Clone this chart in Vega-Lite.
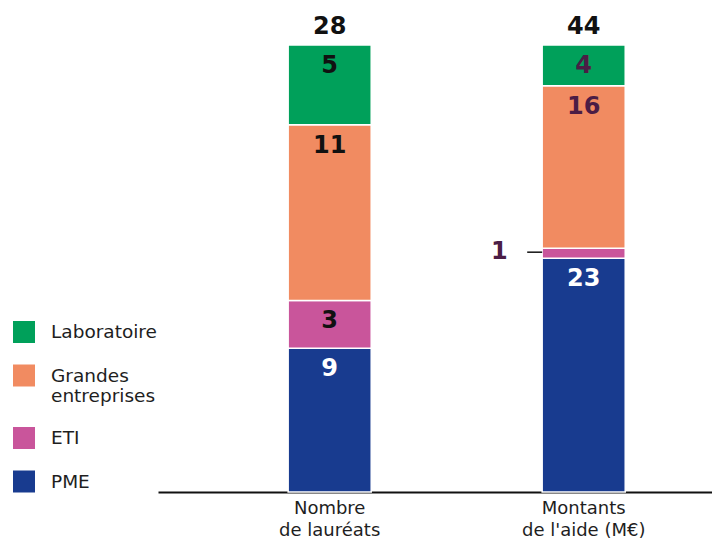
{
  "$schema": "https://vega.github.io/schema/vega-lite/v6.json",
  "width": 554,
  "height": 447,
  "autosize": {"type": "none"},
  "padding": {"left": 158, "top": 45, "right": 0, "bottom": 53},
  "background": "white",
  "config": {"view": {"stroke": null}, "font": "DejaVu Sans"},
  "data": {
    "values": [
      {"indicateur": "Nombre de lauréats", "categorie": "PME", "valeur": 9, "rang": 1},
      {"indicateur": "Nombre de lauréats", "categorie": "ETI", "valeur": 3, "rang": 2},
      {"indicateur": "Nombre de lauréats", "categorie": "Grandes entreprises", "valeur": 11, "rang": 3},
      {"indicateur": "Nombre de lauréats", "categorie": "Laboratoire", "valeur": 5, "rang": 4},
      {"indicateur": "Montants de l'aide (M€)", "categorie": "PME", "valeur": 23, "rang": 1},
      {"indicateur": "Montants de l'aide (M€)", "categorie": "ETI", "valeur": 1, "rang": 2},
      {"indicateur": "Montants de l'aide (M€)", "categorie": "Grandes entreprises", "valeur": 16, "rang": 3},
      {"indicateur": "Montants de l'aide (M€)", "categorie": "Laboratoire", "valeur": 4, "rang": 4}
    ]
  },
  "encoding": {
    "x": {
      "field": "indicateur",
      "type": "nominal",
      "sort": null,
      "scale": {"paddingInner": 0.673, "paddingOuter": 0.427, "align": 0.6},
      "axis": {
        "title": null,
        "labelAngle": 0,
        "ticks": false,
        "domainColor": "#111111",
        "domainWidth": 2,
        "labelFontSize": 18,
        "labelColor": "#1e1e1e",
        "labelLineHeight": 22,
        "labelPadding": 7,
        "labelExpr": "datum.label == 'Nombre de lauréats' ? ['Nombre', 'de lauréats'] : ['Montants', \"de l'aide (M€)\"]"
      }
    }
  },
  "layer": [
    {
      "mark": {"type": "bar", "stroke": "white", "strokeWidth": 1.5},
      "encoding": {
        "y": {"field": "valeur", "type": "quantitative", "stack": "normalize", "axis": null, "scale": {"domain": [0, 1], "nice": false}},
        "color": {
          "field": "categorie",
          "type": "nominal",
          "scale": {
            "domain": ["Laboratoire", "Grandes entreprises", "ETI", "PME"],
            "range": ["#00a05a", "#f18b61", "#c9559b", "#183b8f"]
          },
          "legend": {
            "title": null,
            "orient": "none",
            "legendX": -145,
            "legendY": 276,
            "symbolType": "square",
            "symbolSize": 484,
            "symbolStrokeWidth": 0,
            "symbolOpacity": 1,
            "labelFontSize": 18.5,
            "labelColor": "#1e1e1e",
            "labelOffset": 16,
            "labelLineHeight": 20,
            "rowPadding": 21.5,
            "labelLimit": 200,
            "labelExpr": "datum.label == 'Grandes entreprises' ? ['Grandes', 'entreprises'] : datum.label"
          }
        },
        "order": {"field": "rang", "type": "quantitative"}
      }
    },
    {
      "mark": {"type": "text", "baseline": "middle", "dy": 21, "fontSize": 24, "fontWeight": "bold"},
      "encoding": {
        "y": {"field": "valeur", "type": "quantitative", "stack": "normalize"},
        "detail": {"field": "categorie"},
        "order": {"field": "rang", "type": "quantitative"},
        "text": {"condition": {"test": "datum.valeur > 1", "field": "valeur", "type": "quantitative"}, "value": ""},
        "color": {
          "condition": [
            {"test": "datum.categorie == 'PME'", "value": "white"},
            {"test": "datum.indicateur != 'Nombre de lauréats'", "value": "#4b1d45"}
          ],
          "value": "#111111"
        }
      }
    },
    {
      "mark": {"type": "text", "baseline": "middle", "align": "right", "dy": 4, "dx": -76, "fontSize": 24, "fontWeight": "bold", "color": "#4b1d45"},
      "encoding": {
        "y": {"field": "valeur", "type": "quantitative", "stack": "normalize"},
        "detail": {"field": "categorie"},
        "order": {"field": "rang", "type": "quantitative"},
        "text": {"condition": {"test": "datum.valeur <= 1", "field": "valeur", "type": "quantitative"}, "value": ""}
      }
    },
    {
      "mark": {"type": "tick", "orient": "horizontal", "size": 15, "thickness": 1.5, "xOffset": -49, "yOffset": 4, "color": "#111111"},
      "encoding": {
        "y": {"field": "valeur", "type": "quantitative", "stack": "normalize"},
        "detail": {"field": "categorie"},
        "order": {"field": "rang", "type": "quantitative"},
        "opacity": {"condition": {"test": "datum.valeur <= 1", "value": 1}, "value": 0}
      }
    },
    {
      "transform": [{"aggregate": [{"op": "sum", "field": "valeur", "as": "total"}], "groupby": ["indicateur"]}],
      "mark": {"type": "text", "baseline": "bottom", "dy": -6, "fontSize": 24, "fontWeight": "bold", "color": "#111111"},
      "encoding": {
        "y": {"datum": 1, "type": "quantitative"},
        "text": {"field": "total", "type": "quantitative"}
      }
    }
  ]
}
